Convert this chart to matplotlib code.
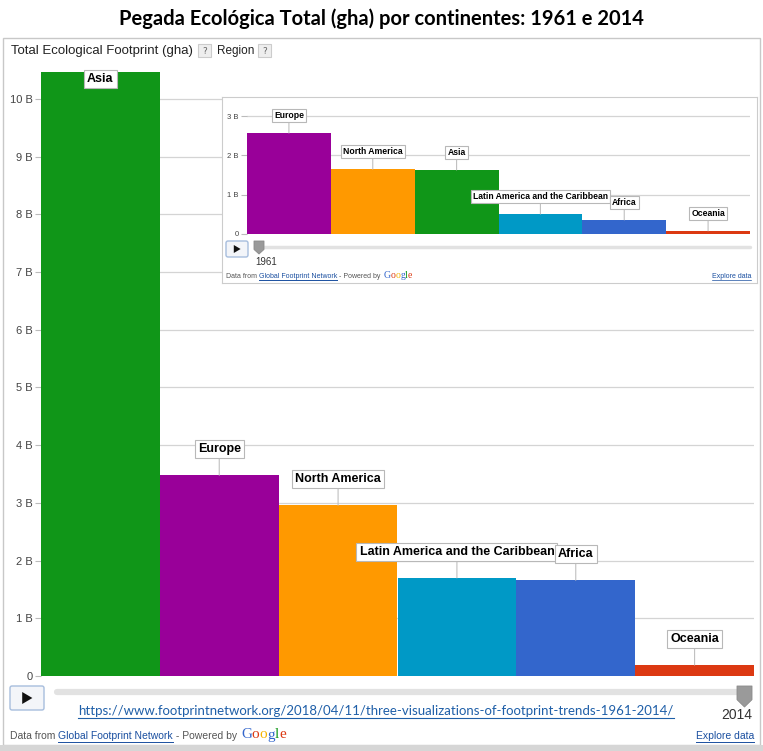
import matplotlib
matplotlib.use('Agg')
import matplotlib.pyplot as plt
from matplotlib.patches import Rectangle, FancyBboxPatch, Polygon

W, H = 763, 751

regions_2014 = ['Asia', 'Europe', 'North America', 'Latin America and the Caribbean', 'Africa', 'Oceania']
values_2014 = [10.47, 3.48, 2.96, 1.70, 1.66, 0.19]
regions_1961 = ['Europe', 'North America', 'Asia', 'Latin America and the Caribbean', 'Africa', 'Oceania']
values_1961 = [2.57, 1.65, 1.63, 0.51, 0.36, 0.08]
ticks_main = [0, 1, 2, 3, 4, 5, 6, 7, 8, 9, 10]
ticks_inset = [0, 1, 2, 3]

colors = {'Asia': '#109618', 'Europe': '#990099', 'North America': '#FF9900',
          'Latin America and the Caribbean': '#0099C6', 'Africa': '#3366CC', 'Oceania': '#DC3912'}

LINK = '#1a4fa0'
GREY = '#555555'


def box(x, y, w, h):
    return [x / W, 1 - (y + h) / H, w / W, h / H]


def tick_fmt(v):
    return '0' if v == 0 else f'{v} B'


def bar_chart(ax, regions, values, ticks, ymax, fs_tick, fs_lab, gap, top_inside=None):
    x = range(len(regions))
    ax.bar(x, values, width=1.0, color=[colors[r] for r in regions], linewidth=0, zorder=2)
    ax.set_xlim(-0.5, len(regions) - 0.5)
    ax.set_ylim(0, ymax)
    ax.set_yticks(ticks)
    ax.set_yticklabels([tick_fmt(t) for t in ticks], fontsize=fs_tick, color='#444444',
                       family='Liberation Sans')
    ax.set_xticks([])
    ax.tick_params(axis='y', length=4, color='#bbbbbb', width=0.8, pad=2)
    ax.grid(axis='y', color='#d4d4d4', lw=0.9, zorder=0)
    for s in ax.spines.values():
        s.set_visible(False)
    ax.patch.set_alpha(0)
    bbox = dict(boxstyle='square,pad=0.25', fc='white', ec='#b8b8b8', lw=0.8)
    for i, (r, v) in enumerate(zip(regions, values)):
        if r == top_inside:
            ax.annotate(r, xy=(i, v), xytext=(0, -1), textcoords='offset pixels',
                        ha='center', va='top', fontsize=fs_lab, weight='bold',
                        family='Liberation Sans', bbox=bbox, zorder=5)
        else:
            ax.annotate(r, xy=(i, v), xytext=(0, gap), textcoords='offset pixels',
                        ha='center', va='bottom', fontsize=fs_lab, weight='bold',
                        family='Liberation Sans', bbox=bbox, zorder=5,
                        arrowprops=dict(arrowstyle='-', color='#c0c0c0', lw=0.8,
                                        shrinkA=0, shrinkB=0))


def text_run(ax, fig, x, y, parts, fs):
    r = fig.canvas.get_renderer()
    for txt, col, underline in parts:
        t = ax.text(x, y, txt, color=col, fontsize=fs, family='Liberation Sans',
                    ha='left', va='center')
        bb = t.get_window_extent(renderer=r)
        w = bb.width
        if underline:
            ax.plot([x, x + w], [y + fs * 0.75, y + fs * 0.75], color=col, lw=0.7)
        x += w
    return x


def google(ax, x, y, fs):
    letters = [('G', '#3366cc'), ('o', '#dc3912'), ('o', '#f5b400'), ('g', '#3366cc'),
               ('l', '#109618'), ('e', '#dc3912')]
    r = ax.figure.canvas.get_renderer()
    for ch, col in letters:
        t = ax.text(x, y, ch, color=col, fontsize=fs, family='Liberation Serif',
                    ha='left', va='center')
        x += t.get_window_extent(renderer=r).width


def play_button(ax, x, y, w, h):
    ax.add_patch(FancyBboxPatch((x, y), w, h, boxstyle='round,pad=0,rounding_size=2',
                                fc='#f3f5f9', ec='#a7bddd', lw=1))
    cx, cy = x + w / 2, y + h / 2
    s = h * 0.25
    ax.add_patch(Polygon([(cx - s * 0.8, cy - s), (cx - s * 0.8, cy + s), (cx + s * 0.9, cy)],
                         fc='#111111', ec='none'))


def knob(ax, x, y, w, h):
    ax.add_patch(Polygon([(x, y), (x + w, y), (x + w, y + h * 0.65), (x + w / 2, y + h),
                          (x, y + h * 0.65)], closed=True, fc='#9a9a9a', ec='#8a8a8a', lw=0.6,
                         joinstyle='round', zorder=4))


fig = plt.figure(figsize=(W / 100, H / 100), dpi=100)
fig.patch.set_facecolor('white')

# background layer in pixel coordinates
bg = fig.add_axes([0, 0, 1, 1], zorder=0)
bg.set_xlim(0, W)
bg.set_ylim(H, 0)
bg.axis('off')
bg.add_patch(Rectangle((3, 38), 757, 707, fc='white', ec='#c8c8c8', lw=1))
bg.add_patch(Rectangle((0, 745), W, 6, fc='#d6d6d6', ec='none'))

fig.text(0.5, 1 - 19 / H, 'Pegada Ecológica Total (gha) por continentes: 1961 e 2014',
         ha='center', va='center', fontsize=14.5, weight='bold', family='Lato')

x = text_run(bg, fig, 11, 51, [('Total Ecological Footprint (gha)', '#222222', False)], 9.5)
for qx in [198, 258]:
    bg.add_patch(Rectangle((qx, 44), 13, 13, fc='#eeeeee', ec='#cccccc', lw=0.8))
    bg.text(qx + 6.5, 51, '?', fontsize=6.5, color='#666666', ha='center', va='center')
bg.text(217, 51, 'Region', fontsize=8.5, color='#222222', ha='left', va='center',
        family='Liberation Sans')

play_button(bg, 10, 686, 34, 24)
bg.plot([57, 745], [692, 692], color='#e2e2e2', lw=4.5, solid_capstyle='round')
knob(bg, 737, 686, 15, 21)
bg.text(737, 715, '2014', fontsize=10, color='#333333', ha='center', va='center',
        family='Liberation Sans')

url = 'https://www.footprintnetwork.org/2018/04/11/three-visualizations-of-footprint-trends-1961-2014/'
ut = bg.text(376, 711, url, fontsize=9.5, color='#1f5fa8', ha='center', va='center', family='Lato')
uw = ut.get_window_extent(renderer=fig.canvas.get_renderer()).width
bg.plot([376 - uw / 2, 376 + uw / 2], [718, 718], color='#1f5fa8', lw=0.8)

x = text_run(bg, fig, 10, 736, [('Data from ', GREY, False), ('Global Footprint Network', LINK, True),
                                 (' - Powered by ', GREY, False)], 7.5)
google(bg, x + 1, 735, 11)
et = bg.text(754, 736, 'Explore data', fontsize=7.5, color=LINK, ha='right', va='center',
             family='Liberation Sans')
ew = et.get_window_extent(renderer=fig.canvas.get_renderer()).width
bg.plot([754 - ew, 754], [741.5, 741.5], color=LINK, lw=0.7)

# main chart (2014)
ax = fig.add_axes(box(41, 64, 713, 612), zorder=1)
bar_chart(ax, regions_2014, values_2014, ticks_main, 612 / 57.7, 8, 9, 20, top_inside='Asia')

# inset frame (1961)
fr = fig.add_axes(box(222, 97, 535, 186), zorder=2)
fr.set_xlim(222, 757)
fr.set_ylim(283, 97)
fr.set_xticks([])
fr.set_yticks([])
fr.set_facecolor('white')
for s in fr.spines.values():
    s.set_color('#cccccc')
    s.set_linewidth(0.8)
play_button(fr, 226, 241, 22, 16)
fr.plot([258, 750], [247, 247], color='#e2e2e2', lw=2.5, solid_capstyle='round')
knob(fr, 254, 241, 10, 13)
fr.text(266, 262, '1961', fontsize=7, color='#333333', ha='center', va='center',
        family='Liberation Sans')
x = text_run(fr, fig, 226, 276, [('Data from ', GREY, False), ('Global Footprint Network', LINK, True),
                                  (' - Powered by ', GREY, False)], 5)
google(fr, x + 1, 275.5, 7)
et = fr.text(751, 276, 'Explore data', fontsize=5, color=LINK, ha='right', va='center',
             family='Liberation Sans')
ew = et.get_window_extent(renderer=fig.canvas.get_renderer()).width
fr.plot([751 - ew, 751], [279.5, 279.5], color=LINK, lw=0.5)

ins = fig.add_axes(box(247, 105, 503, 129), zorder=3)
bar_chart(ins, regions_1961, values_1961, ticks_inset, 129 / 39.3, 5.5, 6.2, 13)

fig.savefig('out.png', dpi=100)
